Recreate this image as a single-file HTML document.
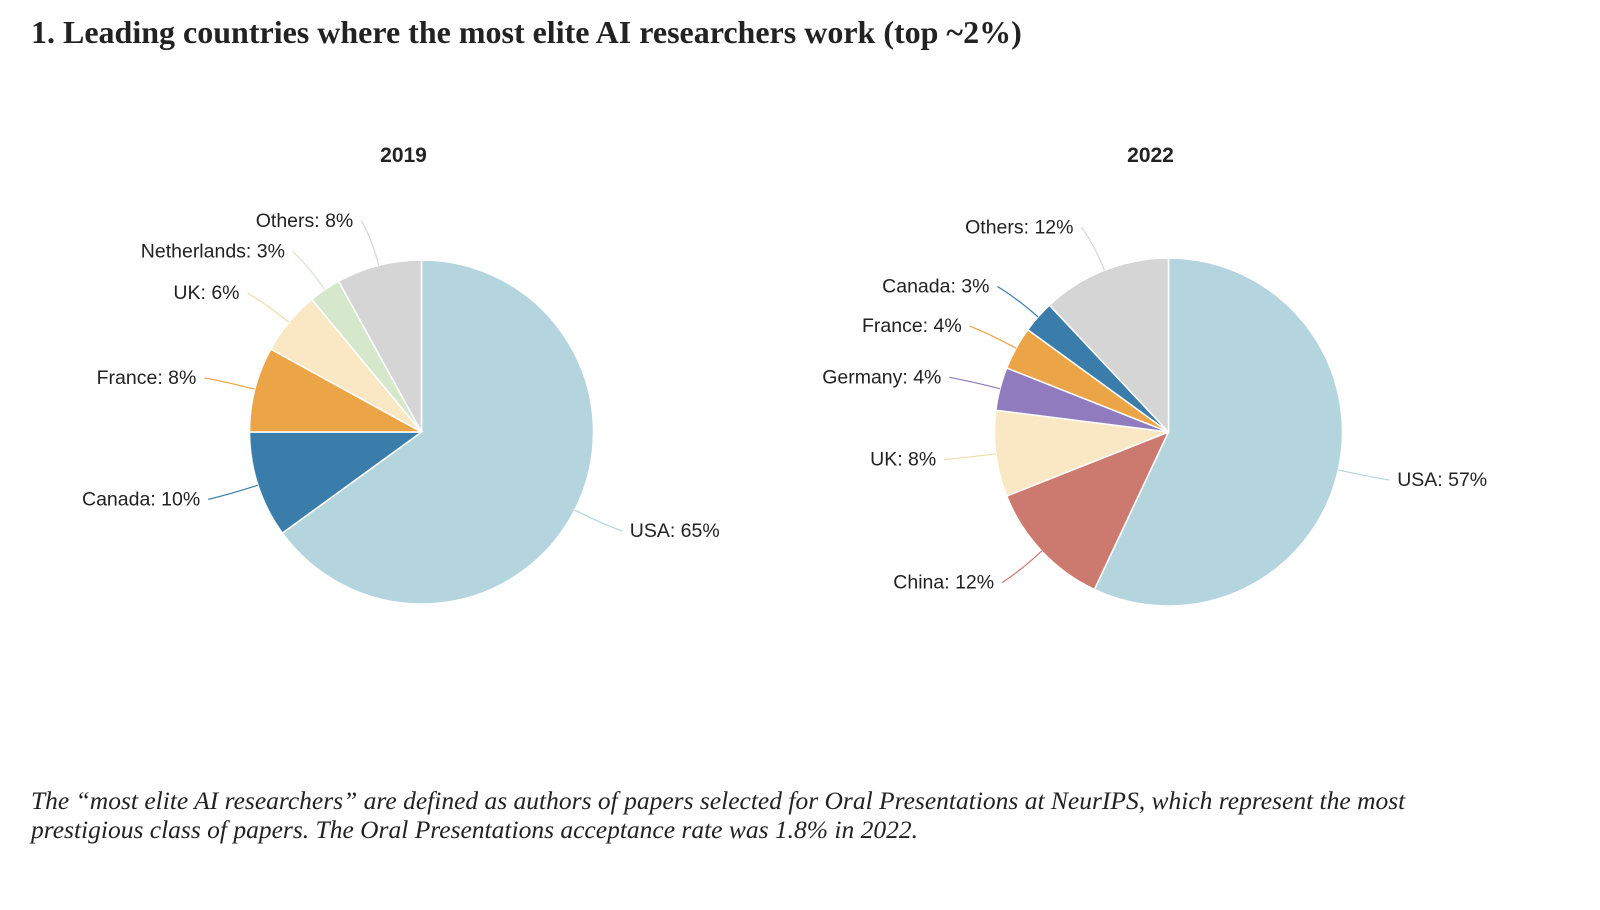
<!DOCTYPE html>
<html><head><meta charset="utf-8">
<style>
body{margin:0;background:#fff;width:1600px;height:910px;overflow:hidden}
#title{position:absolute;left:31px;top:14px;font:600 32px "Liberation Serif",serif;color:#222}
#note{position:absolute;left:31px;top:786px;font:italic 25.5px/29px "Liberation Serif",serif;color:#222;width:1475px}
svg{position:absolute;left:0;top:0}
</style></head><body>
<div id="title">1. Leading countries where the most elite AI researchers work (top ~2%)</div>
<svg id="chart" width="1600" height="910"></svg>
<div id="note">The “most elite AI researchers” are defined as authors of papers selected for Oral Presentations at NeurIPS, which represent the most prestigious class of papers. The Oral Presentations acceptance rate was 1.8% in 2022.</div>
<script>
const cats2019 = ["USA","Canada","France","UK","Netherlands","Others"];
const vals2019 = [65,10,8,6,3,8];
const cats2022 = ["USA","China","UK","Germany","France","Canada","Others"];
const vals2022 = [57,12,8,4,4,3,12];
const colors = {USA:"#b5d5de",Canada:"#3a7dab",France:"#eba446",UK:"#fae8c5",Netherlands:"#d5e8cb",Others:"#d5d5d5",China:"#cc7a6f",Germany:"#8f7bbd"};
const NS="http://www.w3.org/2000/svg";
const svg=document.getElementById('chart');
function mk(t,a){const e=document.createElementNS(NS,t);for(const k in a)e.setAttribute(k,a[k]);svg.appendChild(e);return e;}
function pt(cx,cy,r,f){const a=f*2*Math.PI;return [cx+r*Math.sin(a),cy-r*Math.cos(a)];}
function pie(year,cats,vals,cx,cy,r){
  const t=mk('text',{x:cx-18,y:162,'text-anchor':'middle','font-family':'Liberation Sans, sans-serif','font-size':21,'font-weight':'bold',fill:'#222'});
  t.textContent=year;
  
  
  const tot=vals.reduce((a,b)=>a+b,0);let acc=0;
  cats.forEach((c,i)=>{
    const f0=acc/tot,f1=(acc+vals[i])/tot;acc+=vals[i];
    const p0=pt(cx,cy,r,f0),p1=pt(cx,cy,r,f1);
    const large=(f1-f0)>0.5?1:0;
    const s=mk('path',{d:`M${cx},${cy}L${p0[0]},${p0[1]}A${r},${r} 0 ${large} 1 ${p1[0]},${p1[1]}Z`,fill:colors[c],stroke:'#fff','stroke-width':1.5});
    
    
    const fm=(f0+f1)/2;
    const a=pt(cx,cy,r,fm),b=pt(cx,cy,r+28,fm),e=pt(cx,cy,r+46,fm);
    const right=Math.sin(fm*2*Math.PI)>=0;
    const ex=e[0]+(right?6:-6);
    const l=mk('path',{d:`M${a[0]},${a[1]}Q${b[0]},${b[1]} ${ex},${e[1]}`,fill:'none',stroke:colors[c]==='#fae8c5'?'#f3dcaa':colors[c],'stroke-width':1.2});
    
    
    const lb=mk('text',{x:ex+(right?8:-8),y:e[1]+6,'text-anchor':right?'start':'end','font-family':'Liberation Sans, sans-serif','font-size':19.5,fill:'#222'});
    lb.textContent=c+': '+vals[i]+'%';
    
    
  });
}
pie('2019',cats2019,vals2019,421.5,432,172);
pie('2022',cats2022,vals2022,1168.5,432,174);
</script>
</body></html>
